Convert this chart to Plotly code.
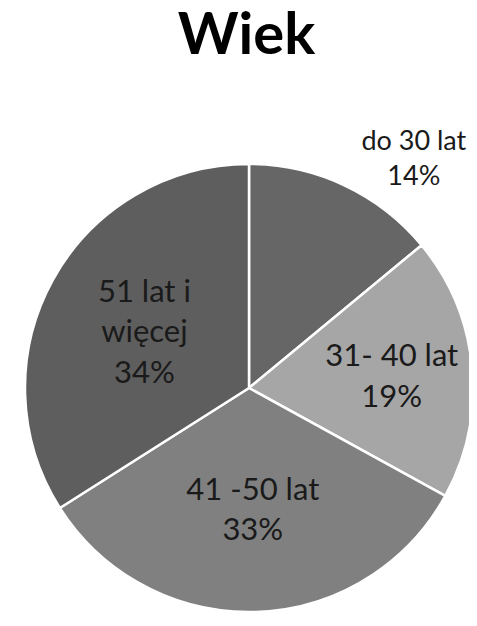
import plotly.graph_objects as go

# age groups and their shares (%)
groups = ["do 30 lat", "31- 40 lat", "41 -50 lat", "51 lat i<br>więcej"]
shares = [14, 19, 33, 34]
colors = ["#666666", "#a6a6a6", "#808080", "#5e5e5e"]
positions = ["outside", "inside", "inside", "inside"]
label_sizes = [27, 31, 31, 31]

W, H = 477, 626
cx, cy, r = 241, 380, 224  # pie centre / radius in pixels

fig = go.Figure(go.Pie(
    labels=groups,
    values=shares,
    text=groups,
    texttemplate="%{text}<br>%{percent:.0%}",
    textposition=positions,
    insidetextorientation="horizontal",
    sort=False,
    direction="clockwise",
    rotation=0,
    marker=dict(colors=colors, line=dict(color="white", width=2.5)),
    textfont=dict(family="Lato", size=label_sizes, color="#1a1a1a"),
    hoverinfo="label+percent",
    automargin=False,
    domain=dict(x=[(cx - r) / W, (cx + r) / W],
                y=[(H - cy - r) / H, (H - cy + r) / H]),
))

fig.update_layout(
    width=W, height=H,
    margin=dict(l=0, r=0, t=0, b=0),
    paper_bgcolor="white",
    showlegend=False,
    title=dict(text="<b>Wiek</b>", x=0.5, xanchor="center",
               y=1 - 5 / H, yanchor="top", yref="container",
               font=dict(family="Lato", size=58, color="black")),
)

fig.write_html("out.html")
